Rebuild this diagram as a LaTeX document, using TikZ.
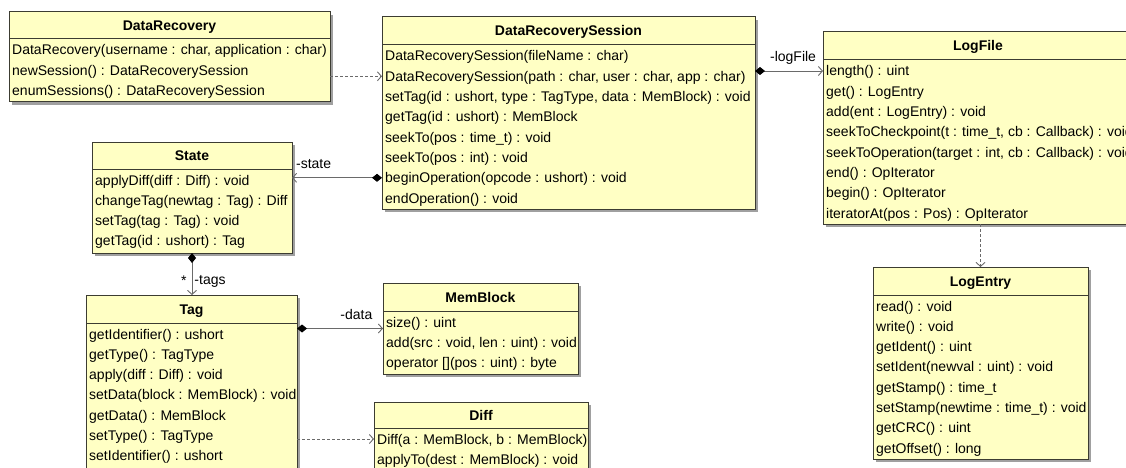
\documentclass[tikz,border=0pt]{standalone}
\usepackage{fontspec}
\setmainfont{Liberation Sans}
\usetikzlibrary{arrows.meta,shadows,calc}

\definecolor{boxfill}{HTML}{FFFFC4}
\definecolor{boxedge}{HTML}{3C3C32}
\definecolor{shade}{HTML}{A0A0A0}
\definecolor{wire}{HTML}{6A6A6A}

\tikzset{
  classbox/.style={draw=boxedge, fill=boxfill, line width=1pt, rectangle,
    inner sep=0pt, outer sep=0pt, anchor=north west,
    drop shadow={shadow xshift=3pt, shadow yshift=-3pt, fill=shade, opacity=1}},
  divider/.style={draw=boxedge, line width=1pt},
  classtitle/.style={font=\bfseries, inner sep=0pt, text height=12pt, text depth=2pt},
  member/.style={inner sep=0pt, text height=12pt, text depth=2pt, anchor=west},
  role/.style={inner sep=0pt, text height=12pt, text depth=2pt},
  dependency/.style={draw=wire, line width=0.9pt, dash pattern=on 3pt off 2pt,
    -{Straight Barb[length=4pt,width=9pt]}},
  composition/.style={draw=wire, line width=0.9pt,
    {Diamond[black,length=10pt,width=8pt]}-{Straight Barb[length=4pt,width=9pt]}},
}

% class box: name, left, top, right, bottom, divider, title, members
\newcommand\umlclass[8]{%
  \node[classbox, minimum width={(#4-#2)*1pt}, minimum height={(#5-#3)*1pt}] (#1) at (#2,#3) {};
  \draw[divider] (#2,#6) -- (#4,#6);
  \node[classtitle] (#1-title) at ({(#2+#4)/2},{(#3+#6)/2}) {#7};
  \foreach \m [count=\i] in {#8} {
    \node[member] (#1-r\i) at ({#2+3},{#6+11+(\i-1)*20.3}) {\m};
  }%
}

\begin{document}
\begin{tikzpicture}[x=1pt,y=-1pt]
\fontsize{14}{16}\selectfont
\useasboundingbox (0,0) rectangle (1126,468);
\clip (0,0) rectangle (1126,468);

\umlclass{DR}{9}{12}{330}{102}{39}{DataRecovery}{
  {DataRecovery(username : char, application : char)},
  {newSession() : DataRecoverySession},
  {enumSessions() : DataRecoverySession}}

\umlclass{DRS}{382}{17}{755}{209}{45}{DataRecoverySession}{
  {DataRecoverySession(fileName : char)},
  {DataRecoverySession(path : char, user : char, app : char)},
  {setTag(id : ushort, type : TagType, data : MemBlock) : void},
  {getTag(id : ushort) : MemBlock},
  {seekTo(pos : time\_t) : void},
  {seekTo(pos : int) : void},
  {beginOperation(opcode : ushort) : void},
  {endOperation() : void}}

\umlclass{LF}{823}{32}{1133}{224}{60}{LogFile}{
  {length() : uint},
  {get() : LogEntry},
  {add(ent : LogEntry) : void},
  {seekToCheckpoint(t : time\_t, cb : Callback) : void},
  {seekToOperation(target : int, cb : Callback) : void},
  {end() : OpIterator},
  {begin() : OpIterator},
  {iteratorAt(pos : Pos) : OpIterator}}

\umlclass{ST}{92}{142}{292}{253}{169}{State}{
  {applyDiff(diff : Diff) : void},
  {changeTag(newtag : Tag) : Diff},
  {setTag(tag : Tag) : void},
  {getTag(id : ushort) : Tag}}

\umlclass{TG}{86}{295}{297}{500}{323}{Tag}{
  {getIdentifier() : ushort},
  {getType() : TagType},
  {apply(diff : Diff) : void},
  {setData(block : MemBlock) : void},
  {getData() : MemBlock},
  {setType() : TagType},
  {setIdentifier() : ushort}}

\umlclass{MB}{383}{283}{578}{374}{311}{MemBlock}{
  {size() : uint},
  {add(src : void, len : uint) : void},
  {operator [](pos : uint) : byte}}

\umlclass{DF}{374}{402}{588}{500}{428}{Diff}{
  {Diff(a : MemBlock, b : MemBlock)},
  {applyTo(dest : MemBlock) : void}}

\umlclass{LE}{873}{267}{1088}{459}{295}{LogEntry}{
  {read() : void},
  {write() : void},
  {getIdent() : uint},
  {setIdent(newval : uint) : void},
  {getStamp() : time\_t},
  {setStamp(newtime : time\_t) : void},
  {getCRC() : uint},
  {getOffset() : long}}

% associations
\draw[dependency] (DR.east |- DRS-r2) -- (DRS.west |- DRS-r2);
\draw[composition] (DRS.east |- LF-r1) --
  node[role, pos=0.56, above=7pt] (logFileRole) {-logFile} (LF.west |- LF-r1);
\draw[composition] (DRS.west |- DRS-r7) --
  node[role, pos=0.76, above=7pt] (stateRole) {-state} (ST.east |- DRS-r7);
\draw[composition] (ST.south) --
  node[role, pos=0.62, right=2pt] (tagsRole) {-tags}
  node[role, pos=0.66, left=5pt] (tagsMult) {*} (ST.south |- TG.north);
\draw[composition] (TG.east |- MB.west) --
  node[role, pos=0.69, above=7pt] (dataRole) {-data} (MB.west);
\draw[dependency] (TG.east |- DF-r1) -- (DF.west |- DF-r1);
\draw[dependency] (LF.south -| LE.north) -- (LE.north);
\end{tikzpicture}
\end{document}
